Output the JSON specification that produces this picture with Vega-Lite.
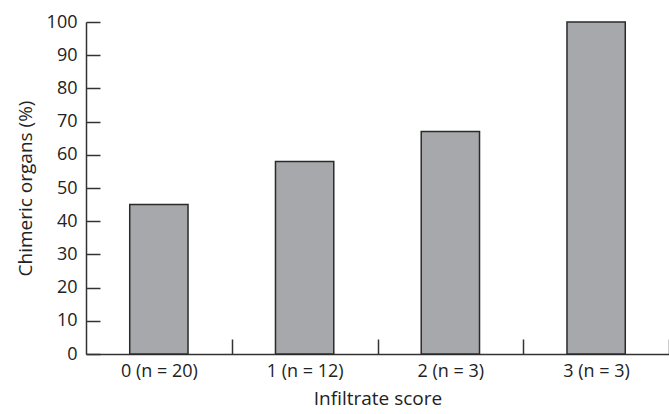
{
  "$schema": "https://vega.github.io/schema/vega-lite/v6.json",
  "autosize": {"type": "none"},
  "padding": {"left": 86, "top": 22, "right": 0, "bottom": 60},
  "width": 583,
  "height": 332,
  "background": "white",
  "config": {
    "view": {"stroke": null},
    "font": "Open Sans",
    "axis": {"domainColor": "#333333", "tickColor": "#333333", "domainWidth": 1.5, "tickWidth": 1.5, "grid": false, "labelColor": "#222222", "titleColor": "#222222", "labelFontSize": 18, "titleFontSize": 19, "titleFontWeight": "normal"}
  },
  "data": {
    "values": [
      {"score": "0 (n = 20)", "pct": 45},
      {"score": "1 (n = 12)", "pct": 58},
      {"score": "2 (n = 3)", "pct": 67},
      {"score": "3 (n = 3)", "pct": 100}
    ]
  },
  "mark": {"type": "bar", "color": "#a7a8ab", "stroke": "#2a2a2a", "strokeWidth": 1.5},
  "encoding": {
    "x": {
      "field": "score", "type": "nominal", "sort": null,
      "scale": {"paddingInner": 0.6, "paddingOuter": 0.3},
      "axis": {"title": "Infiltrate score", "labelAngle": 0, "tickOffset": 73, "labelOffset": -73, "tickSize": -15, "labelPadding": 23, "titlePadding": 9}
    },
    "y": {
      "field": "pct", "type": "quantitative",
      "scale": {"domain": [0, 100], "nice": false},
      "axis": {"title": "Chimeric organs (%)", "values": [0, 10, 20, 30, 40, 50, 60, 70, 80, 90, 100], "tickSize": -14, "labelPadding": 23, "titlePadding": 11}
    }
  }
}
